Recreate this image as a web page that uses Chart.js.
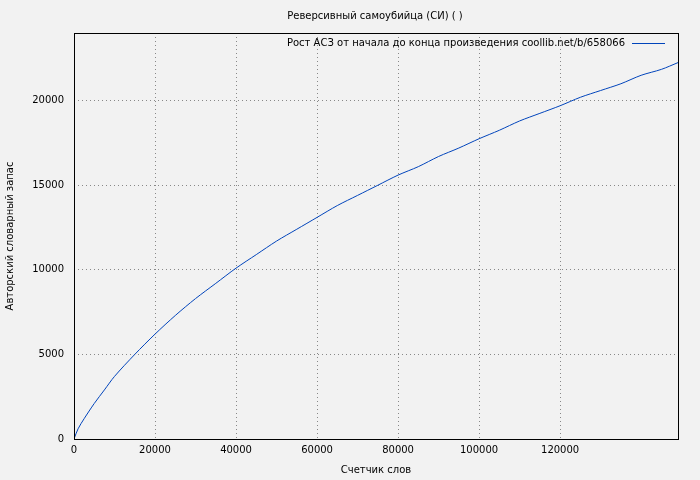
<!DOCTYPE html>
<html>
<head>
<meta charset="utf-8">
<script src="https://cdn.jsdelivr.net/npm/chart.js@4"></script>
<style>
  html, body { margin: 0; padding: 0; background: #f2f2f2; }
  #wrap { width: 700px; height: 480px; }
</style>
</head>
<body>
<div id="wrap"><canvas id="grafico"></canvas></div>
<script>
const titulo = "Реверсивный самоубийца (СИ) ( )";
const serieNome = "Рост АСЗ от начала до конца произведения coollib.net/b/658066";
const slova = [0, 1000, 2500, 5000, 7500, 10000, 15000, 20000, 25000, 30000, 35000, 40000, 45000, 50000, 55000, 60000, 65000, 70000, 75000, 80000, 85000, 90000, 95000, 100000, 105000, 110000, 115000, 120000, 125000, 130000, 135000, 140000, 145000, 149100];
const zapas = [0, 600, 1200, 2100, 2900, 3700, 5000, 6200, 7300, 8300, 9200, 10100, 10900, 11700, 12400, 13100, 13800, 14400, 15000, 15600, 16100, 16700, 17200, 17750, 18250, 18800, 19250, 19700, 20200, 20600, 21000, 21500, 21850, 22250];

const shrift = "DejaVu Sans";

// рамка, заголовок и легенда в стиле gnuplot
const oformlenie = {
  id: "oformlenie",
  afterDraw(chart) {
    const c = chart.ctx, a = chart.chartArea;
    c.save();
    c.strokeStyle = "#000";
    c.lineWidth = 1;
    c.strokeRect(a.left + 0.5, a.top + 0.5, a.right - a.left, a.bottom - a.top);
    c.fillStyle = "#000";
    c.font = "10px " + shrift;
    c.textAlign = "center";
    c.textBaseline = "middle";
    c.fillText(titulo, 375, 16);
    c.textAlign = "right";
    c.fillText(serieNome, 625, 43);
    c.strokeStyle = "#0044bb";
    c.beginPath();
    c.moveTo(632, 43.5);
    c.lineTo(665, 43.5);
    c.stroke();
    c.restore();
  }
};

const kratnye = step => axis => { axis.ticks = axis.ticks.filter(t => t.value % step === 0); };

new Chart(document.getElementById("grafico"), {
  type: "line",
  data: {
    labels: slova,
    datasets: [{
      label: serieNome,
      data: slova.map((x, i) => ({ x, y: zapas[i] })),
      borderColor: "#0044bb",
      borderWidth: 1,
      pointRadius: 0,
      tension: 0.3,
      fill: false
    }]
  },
  options: {
    responsive: true,
    maintainAspectRatio: false,
    animation: false,
    layout: { padding: { top: 33, right: 22, left: 4, bottom: 4 } },
    plugins: { legend: { display: false }, tooltip: { enabled: false } },
    scales: {
      x: {
        type: "linear",
        min: 0, max: 149100,
        afterBuildTicks: kratnye(20000),
        afterFit(s) { s.height = 37; },
        grid: { color: "#888", drawTicks: false },
        border: { display: false, dash: [1, 3] },
        ticks: { color: "#000", font: { family: shrift, size: 10 }, padding: 5, maxRotation: 0, autoSkip: false, callback: v => String(v) },
        title: { display: true, text: "Счетчик слов", color: "#000", font: { family: shrift, size: 10 }, padding: 0 }
      },
      y: {
        min: 0, max: 24000,
        afterBuildTicks: kratnye(5000),
        afterFit(s) { s.width = 70; },
        grid: { color: "#888", drawTicks: false },
        border: { display: false, dash: [1, 3] },
        ticks: { color: "#000", font: { family: shrift, size: 10 }, padding: 10, autoSkip: false, callback: v => String(v) },
        title: { display: true, text: "Авторский словарный запас", color: "#000", font: { family: shrift, size: 10 }, padding: 0 }
      }
    }
  },
  plugins: [oformlenie]
});
</script>
</body>
</html>
